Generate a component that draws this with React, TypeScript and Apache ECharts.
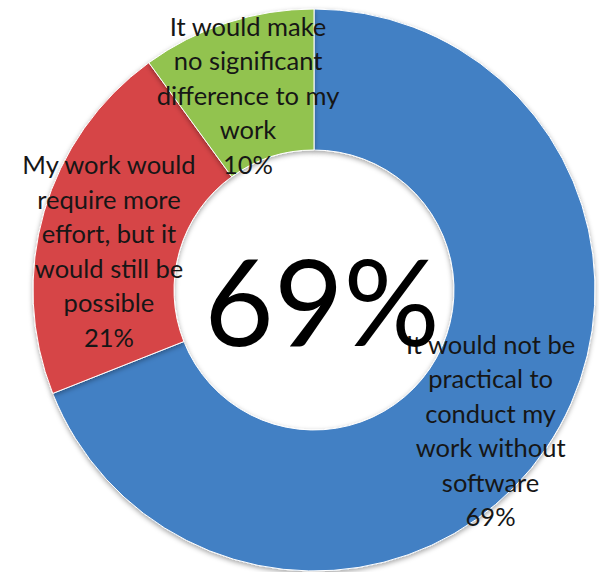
import React, { useEffect, useRef } from "react";
import * as echarts from "echarts";

const categories = [
  "It would not be\npractical to\nconduct my\nwork without\nsoftware",
  "My work would\nrequire more\neffort, but it\nwould still be\npossible",
  "It would make\nno significant\ndifference to my\nwork",
];
const values = [69, 21, 10];
const colors = ["#4280C4", "#D64547", "#92C350"];
const centerLabel = "69%";

export default function App() {
  const ref = useRef<HTMLDivElement>(null);
  useEffect(() => {
    document.body.style.margin = "0";
    const chart = echarts.init(ref.current!, null, { renderer: "svg" });
    const dys = [20, 20, 8];
    chart.setOption({
      animation: false,
      backgroundColor: "#ffffff",
      graphic: [
        {
          type: "text",
          x: 322,
          y: 300,
          z: 100,
          style: {
            text: centerLabel,
            fontFamily: "Lato",
            fontSize: 120,
            fill: "#000000",
            textAlign: "center",
            textVerticalAlign: "middle",
          },
        },
      ],
      series: [
        {
          type: "pie",
          center: [314, 290],
          radius: [140, 281],
          startAngle: 90,
          clockwise: true,
          avoidLabelOverlap: false,
          itemStyle: {
            borderColor: "#ffffff",
            borderWidth: 1,
            shadowBlur: 5,
            shadowColor: "rgba(0,0,0,0.35)",
            shadowOffsetY: 2,
          },
          label: {
            show: true,
            position: "inside",
            formatter: (p: any) => `${p.name}\n${p.value}%`,
            fontFamily: "Lato",
            fontSize: 25.5,
            lineHeight: 34.5,
            color: "#161616",
            align: "center",
          },
          labelLine: { show: false },
          labelLayout: (p: any) => ({ dy: dys[p.dataIndex] }),
          emphasis: { disabled: true },
          data: categories.map((name, i) => ({
            name,
            value: values[i],
            itemStyle: { color: colors[i] },
          })),
        },
      ],
    });
    return () => chart.dispose();
  }, []);
  return <div ref={ref} style={{ width: 599, height: 572 }} />;
}
